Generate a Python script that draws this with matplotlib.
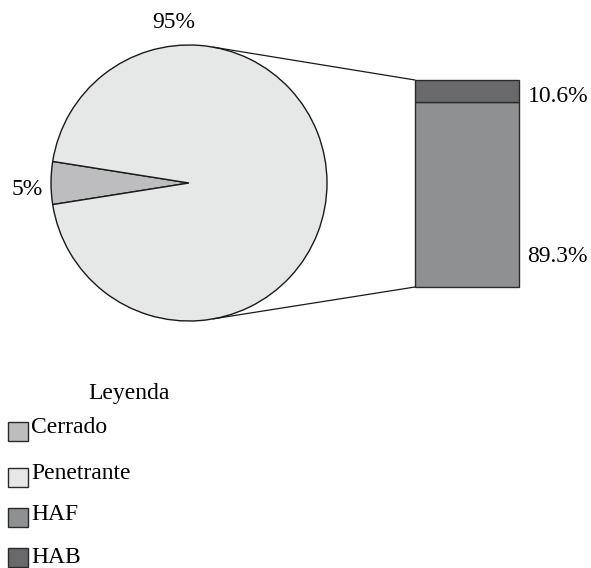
import numpy as np
import matplotlib
matplotlib.use("Agg")
import matplotlib.pyplot as plt
from matplotlib.patches import ConnectionPatch, Rectangle

plt.rcParams['font.family'] = ['Liberation Serif', 'DejaVu Serif']

# data
pie_labels = ['Cerrado', 'Penetrante']
pie_values = [5, 95]
pie_colors = ['#bdbdbf', '#e6e7e7']

bar_labels = ['HAF', 'HAB']
bar_values = [89.3, 10.6]
bar_colors = ['#8f9092', '#69696b']

W, H = 591, 568
FS = 17
fig = plt.figure(figsize=(W / 100, H / 100), dpi=100)

def box(x0, y0, x1, y1):
    # pixel box (top-left origin) -> figure fraction rect
    return [x0 / W, 1 - y1 / H, (x1 - x0) / W, (y1 - y0) / H]

def ptext(x, y, s, ha='left'):
    fig.text(x / W, 1 - y / H, s, ha=ha, va='baseline', fontsize=FS)

# pie
ax1 = fig.add_axes(box(51, 45, 327, 321))
ax1.pie(pie_values, colors=pie_colors, startangle=180 - pie_values[0] * 3.6 / 2,
        radius=1, wedgeprops=dict(edgecolor='#1a1a1a', linewidth=1.0))
ax1.set_xlim(-1, 1)
ax1.set_ylim(-1, 1)
ax1.set_aspect('auto')
ax1.axis('off')
ptext(174, 28, f'{pie_values[1]}%', ha='center')
ptext(27, 195, f'{pie_values[0]}%', ha='center')

# stacked bar
ax2 = fig.add_axes(box(415, 80, 519, 287))
bottom = 0
for v, c in zip(bar_values, bar_colors):
    ax2.bar(0, v, bottom=bottom, width=1, color=c, edgecolor='#2a2a2a',
            linewidth=1.0, clip_on=False)
    bottom += v
ax2.set_xlim(-0.5, 0.5)
ax2.set_ylim(0, sum(bar_values))
ax2.axis('off')
ptext(528, 102, f'{bar_values[1]}%')
ptext(527, 262, f'{bar_values[0]}%')

# connection lines
ang = np.deg2rad(80)
for sgn, yb in [(1, sum(bar_values)), (-1, 0)]:
    con = ConnectionPatch(xyA=(np.cos(ang), sgn * np.sin(ang)), coordsA=ax1.transData,
                          xyB=(-0.5, yb), coordsB=ax2.transData,
                          color='#1a1a1a', linewidth=0.9)
    fig.add_artist(con)

# legend
ptext(129, 399, 'Leyenda', ha='center')
leg_names = pie_labels + bar_labels
leg_colors = pie_colors + bar_colors
leg_tops = [422, 468, 508, 548]
leg_base = [433, 479, 520, 563]
for name, col, top, base in zip(leg_names, leg_colors, leg_tops, leg_base):
    fig.add_artist(Rectangle((8 / W, 1 - (top + 19) / H), 20 / W, 19 / H,
                             transform=fig.transFigure, facecolor=col,
                             edgecolor='#2a2a2a', linewidth=1.0))
    ptext(31, base, name)

fig.savefig('out.png', dpi=100)
